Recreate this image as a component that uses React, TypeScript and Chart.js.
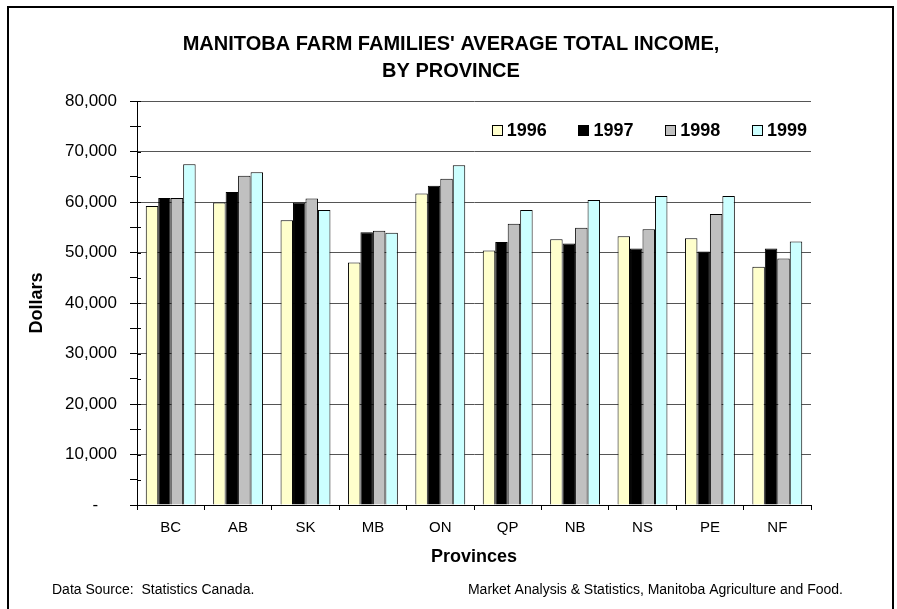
import React, { useEffect, useRef } from 'react';
import { Chart, registerables } from 'chart.js';

Chart.register(...registerables);

const FONT = 'Arial, "Liberation Sans", Helvetica, sans-serif';

const provinces = ['BC', 'AB', 'SK', 'MB', 'ON', 'QP', 'NB', 'NS', 'PE', 'NF'];
const years = ['1996', '1997', '1998', '1999'];
const income1996 = [59200, 59900, 56400, 48000, 61700, 50400, 52600, 53200, 52800, 47200];
const income1997 = [60800, 62000, 59900, 54000, 63200, 52100, 51800, 50800, 50200, 50800];
const income1998 = [60800, 65200, 60700, 54300, 64600, 55700, 54900, 54600, 57600, 48800];
const income1999 = [67500, 65900, 58400, 53900, 67300, 58400, 60400, 61200, 61200, 52200];
const seriesColors = ['#FFFFCC', '#000000', '#C0C0C0', '#CCFFFF'];

const yMin = 0;
const yMax = 80000;
const yMinorStep = 5000;
const yMajorStep = 10000;
const zeroLabel = '-    ';

const titleLines = ["MANITOBA FARM FAMILIES' AVERAGE TOTAL INCOME,", 'BY PROVINCE'];
const yTitle = 'Dollars';
const xTitle = 'Provinces';
const sourceNote = 'Data Source:  Statistics Canada.';
const creditNote = 'Market Analysis & Statistics, Manitoba Agriculture and Food.';

const inlineLegend = {
  id: 'inlineLegend',
  afterDatasetsDraw(chart: any) {
    const { ctx, chartArea } = chart;
    ctx.save();
    ctx.font = `bold 18px ${FONT}`;
    const box = 10;
    const gap = 5;
    const spacing = 31.7;
    const items = chart.data.datasets.map((ds: any) => ({
      label: ds.label,
      color: ds.backgroundColor,
      w: ctx.measureText(ds.label).width,
    }));
    const total =
      items.reduce((s: number, it: any) => s + box + gap + it.w, 0) + spacing * (items.length - 1);
    let x = chartArea.right - 4 - total;
    const y = chartArea.top + 29;
    items.forEach((it: any) => {
      ctx.fillStyle = it.color;
      ctx.fillRect(x, y - box / 2, box, box);
      ctx.strokeStyle = '#000';
      ctx.lineWidth = 1;
      ctx.strokeRect(Math.round(x) + 0.5, Math.round(y - box / 2) + 0.5, box, box);
      ctx.fillStyle = '#000';
      ctx.textBaseline = 'middle';
      ctx.textAlign = 'left';
      ctx.fillText(it.label, x + box + gap, y + 1);
      x += box + gap + it.w + spacing;
    });
    ctx.restore();
  },
};

const decorations = {
  id: 'decorations',
  afterDraw(chart: any) {
    const { ctx, chartArea, scales } = chart;
    ctx.save();
    // inner tick marks on the value axis
    ctx.strokeStyle = '#000';
    ctx.lineWidth = 1;
    scales.y.ticks.forEach((t: any) => {
      const py = Math.round(scales.y.getPixelForValue(t.value)) + 0.5;
      ctx.beginPath();
      ctx.moveTo(chartArea.left, py);
      ctx.lineTo(chartArea.left + 4, py);
      ctx.stroke();
    });
    // footnotes
    ctx.fillStyle = '#000';
    ctx.font = `14px ${FONT}`;
    ctx.textBaseline = 'middle';
    ctx.textAlign = 'left';
    ctx.fillText(sourceNote, 52, 590);
    ctx.textAlign = 'right';
    ctx.fillText(creditNote, 843, 590);
    // outer frame
    ctx.lineWidth = 2;
    ctx.strokeStyle = '#000';
    ctx.strokeRect(8, 7, 885, 700);
    ctx.restore();
  },
};

export default function App() {
  const ref = useRef<HTMLCanvasElement | null>(null);

  useEffect(() => {
    if (!ref.current) return;
    const data = [income1996, income1997, income1998, income1999];
    const chart = new Chart(ref.current, {
      type: 'bar',
      data: {
        labels: provinces,
        datasets: years.map((y, i) => ({
          label: y,
          data: data[i],
          backgroundColor: seriesColors[i],
          borderColor: '#000',
          borderWidth: 1,
          categoryPercentage: 0.74,
          barPercentage: 1,
          xAxisID: 'x',
          yAxisID: 'y',
        })),
      },
      options: {
        animation: false,
        responsive: false,
        devicePixelRatio: 1,
        layout: { padding: { left: 8, right: 3, top: 10, bottom: 41.2 } },
        plugins: {
          legend: { display: false },
          tooltip: { enabled: false },
          title: {
            display: true,
            text: titleLines,
            color: '#000',
            font: { family: FONT, size: 20, weight: 'bold', lineHeight: 1.35 },
            padding: { top: 20.5, bottom: 16.5 },
          },
        },
        scales: {
          x: {
            type: 'category',
            position: 'bottom',
            afterFit: (s: any) => {
              s.height = 62.8;
            },
            grid: {
              display: true,
              drawOnChartArea: false,
              drawTicks: true,
              tickLength: 5,
              offset: true,
              tickColor: '#000',
              color: '#000',
            },
            border: { display: true, color: '#000', width: 1 },
            ticks: { color: '#000', font: { family: FONT, size: 15 }, padding: 9, maxRotation: 0 },
            title: {
              display: true,
              text: xTitle,
              color: '#000',
              font: { family: FONT, size: 18, weight: 'bold', lineHeight: 1.2 },
              padding: { top: 9.2, bottom: 0 },
            },
          },
          y: {
            type: 'linear',
            position: 'left',
            min: yMin,
            max: yMax,
            afterFit: (s: any) => {
              s.width = 129;
            },
            grid: {
              display: true,
              drawTicks: true,
              tickLength: 7,
              color: (c: any) =>
                c.tick && c.tick.value % yMajorStep === 0 ? '#555555' : 'rgba(0,0,0,0)',
              tickColor: '#000',
            },
            border: { display: true, color: '#000', width: 1 },
            ticks: {
              stepSize: yMinorStep,
              color: '#000',
              padding: 13,
              font: { family: FONT, size: 17 },
              callback: (v: any) => {
                const n = Number(v);
                if (n === 0) return zeroLabel;
                if (n % yMajorStep !== 0) return '';
                return n.toLocaleString('en-US');
              },
            },
            title: {
              display: true,
              text: yTitle,
              color: '#000',
              font: { family: FONT, size: 18, weight: 'bold', lineHeight: 1.2 },
              padding: { top: 18.2, bottom: 0 },
            },
          },
          yR: {
            type: 'linear',
            position: 'right',
            display: true,
            afterFit: (s: any) => {
              s.width = 83;
            },
            grid: { display: false, drawTicks: false },
            border: { display: false },
            ticks: { display: false },
          },
        },
      },
      plugins: [inlineLegend, decorations],
    } as any);
    return () => chart.destroy();
  }, []);

  return (
    <div style={{ position: 'absolute', left: 0, top: 0, width: 897, height: 609, background: '#fff' }}>
      <canvas ref={ref} width={897} height={609} style={{ width: 897, height: 609, display: 'block' }} />
    </div>
  );
}
